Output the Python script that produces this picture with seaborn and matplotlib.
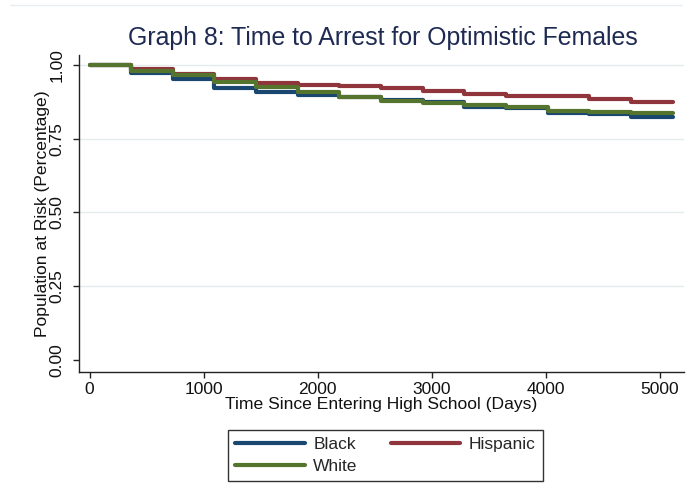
import numpy as np
import pandas as pd
import matplotlib
matplotlib.use("Agg")
import matplotlib.pyplot as plt
import seaborn as sns
from matplotlib.lines import Line2D

# ---- data ----
times = [0, 365, 730, 1095, 1460, 1825, 2190, 2555, 2920, 3285, 3650, 4015, 4380, 4745, 5110]
black = [1.000, 0.973, 0.951, 0.921, 0.907, 0.897, 0.893, 0.882, 0.875, 0.859, 0.855, 0.836, 0.834, 0.824, 0.824]
hispanic = [1.000, 0.986, 0.971, 0.953, 0.939, 0.933, 0.929, 0.922, 0.913, 0.902, 0.896, 0.896, 0.886, 0.876, 0.876]
white = [1.000, 0.980, 0.966, 0.942, 0.926, 0.907, 0.893, 0.879, 0.872, 0.866, 0.859, 0.844, 0.841, 0.837, 0.837]
groups = ["Black", "Hispanic", "White"]
x_ticks = [0, 1000, 2000, 3000, 4000, 5000]
y_ticks = [0.00, 0.25, 0.50, 0.75, 1.00]
y_tick_labels = ["0.00", "0.25", "0.50", "0.75", "1.00"]

df = pd.concat([
    pd.DataFrame({"time": times, "surv": vals, "group": g})
    for g, vals in zip(groups, [black, hispanic, white])
], ignore_index=True)

palette = {"Black": "#1a476f", "Hispanic": "#90353b", "White": "#55752f"}

sns.set_style("white")
plt.rcParams["font.family"] = ["Liberation Sans", "DejaVu Sans"]

fig = plt.figure(figsize=(6.91, 4.87), dpi=100)
fig.patch.set_facecolor("white")
W, H = 691, 487
left, right, top, bottom = 78.7, 684, 55, 372
ax = fig.add_axes([left / W, 1 - bottom / H, (right - left) / W, (bottom - top) / H])

sns.lineplot(data=df, x="time", y="surv", hue="group", hue_order=groups,
             palette=palette, drawstyle="steps-post", linewidth=3.0,
             legend=False, ax=ax, estimator=None, sort=True)

ax.set_xlim(-95, 5210)
ax.set_ylim(-0.041, 1.034)
ax.set_xticks(x_ticks)
ax.set_yticks(y_ticks)
ax.set_yticklabels(y_tick_labels, rotation=90, va="center")

for y in [0.25, 0.50, 0.75, 1.00]:
    ax.axhline(y, color="#e3ecef", lw=1.0, zorder=0)

for s in ["top", "right"]:
    ax.spines[s].set_visible(False)
for s in ["left", "bottom"]:
    ax.spines[s].set_color("#222222")
    ax.spines[s].set_linewidth(1.0)

ax.tick_params(axis="both", which="both", direction="out", length=4,
               width=1.0, color="#222222", labelsize=12.5, labelcolor="#111111",
               left=True, bottom=True)
ax.tick_params(axis="x", pad=3)
ax.tick_params(axis="y", pad=6)

ax.set_xlabel("Time Since Entering High School (Days)", fontsize=12.6,
              color="#111111", labelpad=0)
ax.set_ylabel("Population at Risk (Percentage)", fontsize=12.6,
              color="#111111", labelpad=0)

fig.text(383 / W, 1 - 38 / H, "Graph 8: Time to Arrest for Optimistic Females",
         ha="center", va="center", fontsize=17.9, color="#1e2a52")

# faint top border line of the graph region
fig.add_artist(Line2D([10 / W, 682 / W], [1 - 5 / H, 1 - 5 / H],
                      color="#e8eef0", lw=1.0))

handles = [Line2D([], [], color=palette[g], lw=3.0) for g in ["Black", "White", "Hispanic"]]
labels = ["Black", "White", "Hispanic"]
leg = fig.legend(handles, labels, ncol=2, loc="center",
                 bbox_to_anchor=(385.5 / W, 1 - 455.5 / H),
                 fontsize=12.5, frameon=True, fancybox=False,
                 handlelength=4.0, handletextpad=0.5, columnspacing=1.9,
                 labelspacing=0.35, borderpad=0.4, borderaxespad=0)
leg.get_frame().set_edgecolor("black")
leg.get_frame().set_linewidth(1.0)

fig.savefig("out.png", dpi=100, facecolor="white")
